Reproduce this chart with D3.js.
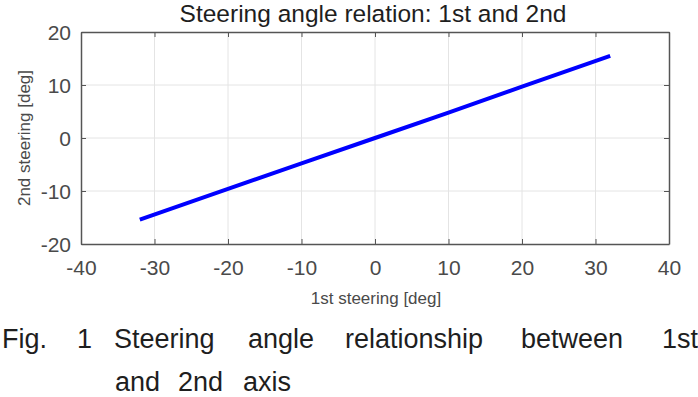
<!DOCTYPE html>
<html>
<head>
<meta charset="utf-8">
<script src="https://cdn.jsdelivr.net/npm/d3@7"></script>
<style>
  body { margin: 0; background: #fff; }
  svg { display: block; font-family: "Liberation Sans", Arial, sans-serif; }
</style>
</head>
<body>
<script>
// data
var firstSteer  = [-32, -20, -10, 0, 10, 20, 32];
var secondSteer = [-15.4, -9.6, -4.8, 0, 4.8, 9.7, 15.5];
var xTicks = [-40, -30, -20, -10, 0, 10, 20, 30, 40];
var yTicks = [-20, -10, 0, 10, 20];

var W = 698, H = 397;
var svg = d3.select("body").append("svg").attr("width", W).attr("height", H);

var x = d3.scaleLinear().domain([-40, 40]).range([81, 669]);
var y = d3.scaleLinear().domain([-20, 20]).range([244, 32]);

// grid
svg.append("g").selectAll("line").data(xTicks.slice(1, -1)).enter().append("line")
    .attr("x1", d => x(d)).attr("x2", d => x(d))
    .attr("y1", y(20)).attr("y2", y(-20))
    .attr("stroke", "#e4e4e4").attr("stroke-width", 1);
svg.append("g").selectAll("line").data(yTicks.slice(1, -1)).enter().append("line")
    .attr("y1", d => y(d)).attr("y2", d => y(d))
    .attr("x1", x(-40)).attr("x2", x(40))
    .attr("stroke", "#e4e4e4").attr("stroke-width", 1);

// axes (ticks inside, box on)
var axCol = "#555";
var fmt = d => String(d);   // plain hyphen minus like the original
var gx = svg.append("g").attr("transform", "translate(0," + y(-20) + ")")
    .call(d3.axisBottom(x).tickValues(xTicks).tickFormat(fmt).tickSizeInner(-5).tickSizeOuter(0).tickPadding(16));
var gxTop = svg.append("g").attr("transform", "translate(0," + y(20) + ")")
    .call(d3.axisTop(x).tickValues(xTicks).tickSizeInner(-5).tickSizeOuter(0).tickFormat(""));
var gy = svg.append("g").attr("transform", "translate(" + x(-40) + ",0)")
    .call(d3.axisLeft(y).tickValues(yTicks).tickFormat(fmt).tickSizeInner(-5).tickSizeOuter(0).tickPadding(10));
var gyR = svg.append("g").attr("transform", "translate(" + x(40) + ",0)")
    .call(d3.axisRight(y).tickValues(yTicks).tickSizeInner(-5).tickSizeOuter(0).tickFormat(""));

[gx, gxTop, gy, gyR].forEach(function(g){
    g.select(".domain").attr("stroke", axCol).attr("stroke-width", 1.5);
    g.selectAll(".tick line").attr("stroke", axCol);
    g.selectAll(".tick text").attr("fill", "#4a4a4a").attr("font-size", 21)
        .attr("font-family", "Liberation Sans, Arial, sans-serif");
});
gy.selectAll(".tick text").attr("dy", "0.36em");

// the line
svg.append("path")
    .datum(firstSteer.map((v, i) => [v, secondSteer[i]]))
    .attr("fill", "none")
    .attr("stroke", "#0000ff")
    .attr("stroke-width", 4)
    .attr("d", d3.line().x(d => x(d[0])).y(d => y(d[1])));

// labels
svg.append("text").attr("x", 373).attr("y", 22).attr("text-anchor", "middle")
    .attr("font-size", 24.5).attr("fill", "#1e1e1e")
    .text("Steering angle relation: 1st and 2nd");
svg.append("text").attr("x", 376).attr("y", 304).attr("text-anchor", "middle")
    .attr("font-size", 17).attr("fill", "#4a4a4a")
    .text("1st steering [deg]");
svg.append("text").attr("transform", "translate(30,138) rotate(-90)").attr("text-anchor", "middle")
    .attr("font-size", 17).attr("fill", "#4a4a4a")
    .text("2nd steering [deg]");

// caption (justified words)
var cap1 = [["Fig.", 2], ["1", 77], ["Steering", 114], ["angle", 248], ["relationship", 345], ["between", 521], ["1st", 662]];
var cap2 = [["and", 115], ["2nd", 178], ["axis", 243]];
svg.append("g").selectAll("text").data(cap1).enter().append("text")
    .attr("x", d => d[1]).attr("y", 348).attr("font-size", 27).attr("fill", "#1e1e1e")
    .text(d => d[0]);
svg.append("g").selectAll("text").data(cap2).enter().append("text")
    .attr("x", d => d[1]).attr("y", 391).attr("font-size", 27).attr("fill", "#1e1e1e")
    .text(d => d[0]);
</script>
</body>
</html>
